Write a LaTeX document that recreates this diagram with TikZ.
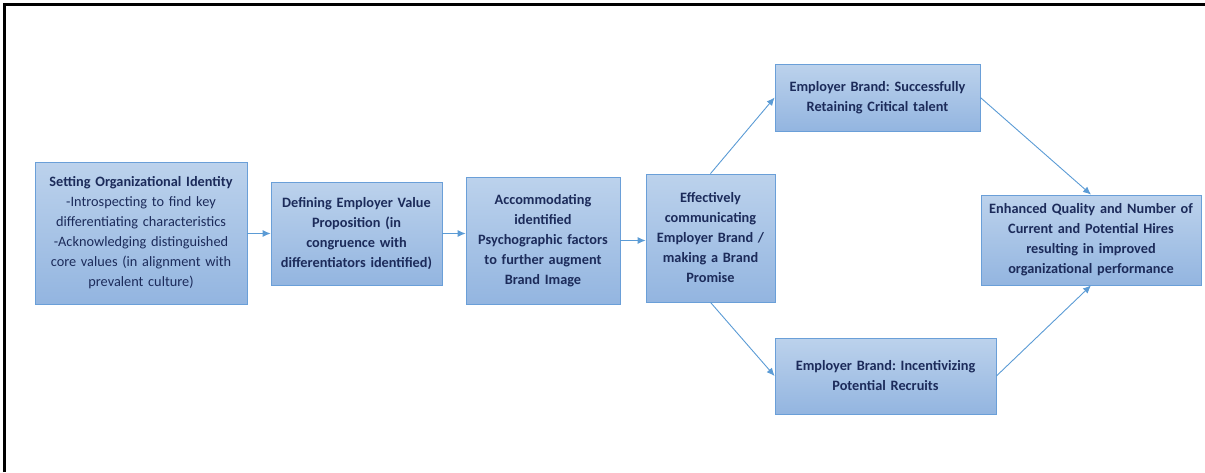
\documentclass[tikz,border=0pt]{standalone}
\usepackage{fontspec}
\setmainfont{Carlito}
\usepackage{xcolor}
\usepackage{tikz}
\usetikzlibrary{arrows.meta}
\frenchspacing

\definecolor{boxtop}{HTML}{BCD2EC}
\definecolor{boxbot}{HTML}{93B5E0}
\definecolor{boxline}{HTML}{6A9FD8}
\definecolor{boxtext}{HTML}{1C2B5A}
\definecolor{arrowcol}{HTML}{5B9BD5}

\tikzset{
    stage/.style={draw=boxline, line width=0.8pt, top color=boxtop, bottom color=boxbot,
        inner sep=0pt, align=center, text=boxtext,
        font=\fontsize{14.3}{20}\selectfont\bfseries},
    flow/.style={-{Latex[length=8pt,width=7pt]}, draw=arrowcol, line width=0.9pt}
}

\begin{document}
\begin{tikzpicture}[x=1pt, y=-1pt]
    \useasboundingbox (0,0) rectangle (1205,472);
    % Khung
    \draw[line width=3pt] (4,472) -- (4,4) -- (1205,4);

    % Cac khoi
    \node[stage, minimum width=212, minimum height=142, text width=206] (ident) at (141,233)
        {Setting Organizational Identity\\ \mdseries-Introspecting to find key\\ \mdseries differentiating characteristics\\ \mdseries-Acknowledging distinguished\\ \mdseries core values (in alignment with\\ \mdseries prevalent culture)};
    \node[stage, minimum width=171, minimum height=103, text width=168] (evp) at (356.5,233.5)
        {Defining Employer Value\\ Proposition (in\\ congruence with\\ differentiators identified)};
    \node[stage, minimum width=154, minimum height=127, text width=150] (psycho) at (543,240.5)
        {Accommodating\\ identified\\ Psychographic factors\\ to further augment\\ Brand Image};
    \node[stage, minimum width=129, minimum height=128, text width=125] (promise) at (710.5,238)
        {Effectively\\ communicating\\ Employer Brand /\\ making a Brand\\ Promise};
    \node[stage, minimum width=205, minimum height=67, text width=200] (retain) at (877.5,97.5)
        {Employer Brand: Successfully\\ Retaining Critical talent};
    \node[stage, minimum width=221, minimum height=76, text width=215] (recruit) at (885.5,376)
        {Employer Brand: Incentivizing\\ Potential Recruits};
    \node[stage, minimum width=220, minimum height=90, text width=215] (result) at (1091,240)
        {Enhanced Quality and Number of\\ Current and Potential Hires\\ resulting in improved\\ organizational performance};

    % Mui ten
    \draw[flow] (ident.east |- evp) -- (evp.west);
    \draw[flow] (evp.east) -- (psycho.west |- evp);
    \draw[flow] (psycho.east) -- (promise.west |- psycho);
    \draw[flow] (promise.north) -- (retain.west);
    \draw[flow] (promise.south) -- (recruit.west);
    \draw[flow] (retain.east) -- (result.north);
    \draw[flow] (recruit.east) -- (result.south);

\end{tikzpicture}
\end{document}
